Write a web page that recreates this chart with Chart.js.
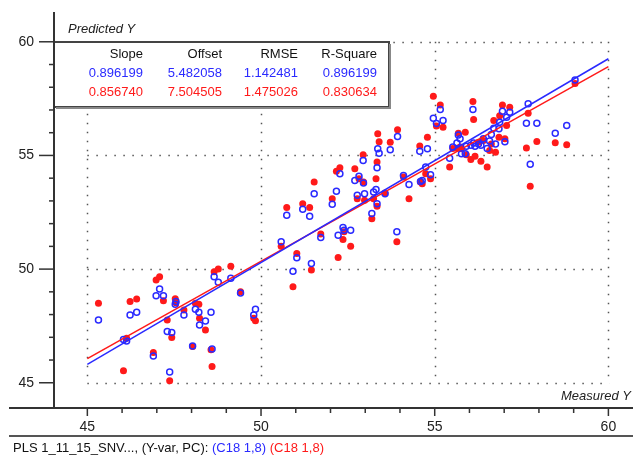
<!DOCTYPE html>
<html lang="en">
<head>
    <meta charset="UTF-8">
    <title>Predicted vs Measured Y</title>
    <script src="https://cdn.jsdelivr.net/npm/chart.js"></script>
    <style>
        body { margin: 0; background: #fff; }
        canvas { display: block; }
    </style>
</head>
<body>
    <canvas id="pls" width="633" height="455"></canvas>
    <script>
        // Measured Y per sample, and the predicted Y from the two models (blue, red)
        const measured = [
            45.32, 46.04, 46.13, 46.23, 46.42, 46.90, 46.98, 47.08, 47.19, 47.30,
            47.43, 47.37, 47.53, 47.55, 47.78, 48.03, 48.11, 48.21, 48.23, 48.40,
            48.56, 48.59, 48.65, 48.77, 49.13, 49.41, 49.79, 49.84, 50.58, 50.74,
            50.92, 51.03, 51.20, 51.40, 51.45, 51.53, 51.72, 52.05, 52.17, 52.27,
            52.22, 52.36, 52.39, 52.58, 52.70, 52.77, 52.82, 52.94, 52.95, 52.98,
            53.19, 53.24, 53.31, 53.34, 53.34, 53.36, 53.40, 53.57, 53.72, 53.91,
            53.93, 54.10, 54.26, 54.59, 54.57, 54.64, 54.74, 54.79, 54.88, 54.96,
            55.05, 55.16, 55.24, 55.43, 55.52, 55.64, 55.68, 55.73, 55.77, 55.88,
            55.91, 56.04, 56.10, 56.12, 56.16, 56.26, 56.33, 56.40, 56.51, 56.58,
            56.63, 56.70, 56.75, 56.85, 56.87, 56.95, 57.02, 57.07, 57.16, 57.64,
            57.69, 57.75, 57.94, 58.47, 58.80, 59.04
        ];
        const predBlue = [
            47.76, 46.90, 46.84, 47.98, 48.10, 46.18, 48.83, 49.12, 48.83, 47.25,
            47.21, 45.47, 48.45, 48.58, 47.98, 46.62, 48.23, 48.10, 47.54, 47.72,
            48.10, 46.48, 49.66, 49.42, 49.60, 48.95, 47.98, 48.23, 51.20, 52.37,
            49.91, 50.50, 52.63, 52.32, 50.25, 53.32, 51.39, 52.85, 53.43, 54.20,
            51.49, 51.83, 51.71, 51.71, 53.90, 53.25, 54.08, 54.78, 53.79, 53.32,
            52.45, 53.39, 53.50, 54.46, 52.88, 55.29, 55.10, 53.32, 55.25, 51.64,
            55.83, 54.12, 53.72, 53.85, 55.18, 53.90, 54.49, 55.29, 54.15, 56.64,
            56.40, 57.02, 56.54, 54.88, 55.37, 55.55, 55.90, 55.73, 55.07, 55.07,
            55.40, 55.45, 57.02, 55.55, 55.40, 55.50, 55.45, 55.73, 55.30, 55.63,
            55.92, 56.20, 55.50, 56.17, 56.46, 56.94, 55.60, 56.68, 56.90, 56.42,
            57.27, 54.61, 56.42, 55.98, 56.32, 58.32
        ];
        const predRed = [
            48.50, 45.53, 46.96, 48.57, 48.68, 46.33, 49.52, 49.66, 48.61, 47.76,
            46.99, 45.09, 48.70, 48.52, 48.20, 46.59, 48.50, 48.45, 47.84, 47.32,
            46.45, 45.72, 49.88, 50.00, 50.13, 49.00, 47.84, 47.73, 51.01, 52.71,
            49.22, 50.69, 52.88, 52.71, 49.96, 53.83, 51.54, 53.10, 54.31, 54.46,
            50.51, 51.30, 51.64, 51.01, 54.42, 53.10, 53.98, 55.03, 53.83, 53.03,
            52.22, 53.10, 53.98, 54.71, 52.76, 55.95, 55.60, 53.35, 55.58, 51.20,
            56.13, 54.05, 53.10, 53.83, 55.41, 53.76, 54.20, 55.80, 53.98, 57.60,
            56.29, 57.22, 56.24, 54.49, 55.30, 55.32, 55.98, 55.37, 55.29, 56.02,
            55.03, 54.82, 57.37, 56.58, 54.96, 55.58, 54.74, 55.66, 54.49, 55.22,
            55.50, 56.54, 55.14, 55.80, 56.75, 57.22, 55.73, 56.32, 57.12, 55.33,
            56.86, 53.65, 55.61, 55.56, 55.47, 58.17
        ];

        // Fit statistics shown in the table (blue row, red row)
        const statHeaders = ['Slope', 'Offset', 'RMSE', 'R-Square'];
        const statsBlue = ['0.896199', '5.482058', '1.142481', '0.896199'];
        const statsRed = ['0.856740', '7.504505', '1.475026', '0.830634'];
        const slopes = [0.896199, 0.856740];
        const offsets = [5.482058, 7.504505];
        const fitRange = [45, 60];

        const xTicks = [45, 50, 55, 60];
        const yTicks = [45, 50, 55, 60];

        const BLUE = '#2a2aff';
        const RED = '#ff1a1a';
        const FONT = '"Liberation Sans", Arial, sans-serif';

        function pts(ys) {
            return measured.map((x, i) => ({ x: x, y: ys[i] }));
        }
        function fitLine(k) {
            return fitRange.map(x => ({ x: x, y: slopes[k] * x + offsets[k] }));
        }

        const framePlugin = {
            id: 'frame',
            beforeDatasetsDraw(chart) {
                const ctx = chart.ctx;
                const xs = chart.scales.x, ys = chart.scales.y;
                const x0 = xs.getPixelForValue(45), x1 = xs.getPixelForValue(60);
                const y0 = ys.getPixelForValue(45), y1 = ys.getPixelForValue(60);
                ctx.save();
                // dotted grid
                ctx.strokeStyle = '#555';
                ctx.lineWidth = 1.5;
                ctx.setLineDash([1.5, 7.5]);
                yTicks.forEach(v => {
                    const y = Math.round(ys.getPixelForValue(v)) + 0.5;
                    ctx.beginPath(); ctx.moveTo(x0, y); ctx.lineTo(x1 + 1, y); ctx.stroke();
                });
                xTicks.forEach(v => {
                    const x = Math.round(xs.getPixelForValue(v)) + 0.5;
                    ctx.beginPath(); ctx.moveTo(x, y1); ctx.lineTo(x, y0 + 1); ctx.stroke();
                });
                ctx.setLineDash([]);

                // stats box
                const bx = 54, by = Math.round(y1), bw = 335, bh = 65;
                ctx.fillStyle = '#fff';
                ctx.fillRect(bx, by, bw, bh);
                ctx.strokeStyle = '#444';
                ctx.lineWidth = 2;
                ctx.strokeRect(bx, by, bw, bh);
                ctx.fillStyle = '#888';
                ctx.fillRect(bx + bw, by + 2, 2, bh);
                ctx.fillRect(bx + 2, by + bh, bw, 2);

                ctx.font = '13px ' + FONT;
                ctx.textAlign = 'right';
                ctx.textBaseline = 'alphabetic';
                const cols = [143, 222, 298, 377];
                statHeaders.forEach((t, i) => { ctx.fillStyle = '#111'; ctx.fillText(t, cols[i], by + 16); });
                statsBlue.forEach((t, i) => { ctx.fillStyle = BLUE; ctx.fillText(t, cols[i], by + 35); });
                statsRed.forEach((t, i) => { ctx.fillStyle = RED; ctx.fillText(t, cols[i], by + 54); });
                ctx.restore();
            },
            afterDraw(chart) {
                const ctx = chart.ctx;
                const xs = chart.scales.x, ys = chart.scales.y;
                const area = chart.chartArea;
                ctx.save();
                ctx.strokeStyle = '#333';
                ctx.fillStyle = '#222';
                ctx.lineWidth = 2;
                // y axis
                ctx.beginPath(); ctx.moveTo(area.left, area.top); ctx.lineTo(area.left, area.bottom); ctx.stroke();
                // x axis
                ctx.beginPath(); ctx.moveTo(9, area.bottom); ctx.lineTo(633, area.bottom); ctx.stroke();
                // bottom separator
                ctx.strokeStyle = '#555';
                ctx.beginPath(); ctx.moveTo(9, 436); ctx.lineTo(633, 436); ctx.stroke();

                ctx.strokeStyle = '#333';
                ctx.lineWidth = 1.5;
                for (let v = 45; v <= 60; v++) {
                    const major = v % 5 === 0;
                    const y = ys.getPixelForValue(v);
                    ctx.beginPath(); ctx.moveTo(area.left - (major ? 15 : 5), y); ctx.lineTo(area.left, y); ctx.stroke();
                    const x = xs.getPixelForValue(v);
                    ctx.beginPath(); ctx.moveTo(x, area.bottom); ctx.lineTo(x, area.bottom + (major ? 8 : 5)); ctx.stroke();
                }

                ctx.font = '14px ' + FONT;
                ctx.textBaseline = 'middle';
                ctx.textAlign = 'right';
                yTicks.forEach(v => ctx.fillText(String(v), 34, ys.getPixelForValue(v)));
                ctx.textAlign = 'center';
                xTicks.forEach(v => ctx.fillText(String(v), xs.getPixelForValue(v), 427));

                ctx.font = 'italic 13px ' + FONT;
                ctx.textBaseline = 'alphabetic';
                ctx.textAlign = 'left';
                ctx.fillText('Predicted Y', 68, 33);
                ctx.textAlign = 'right';
                ctx.fillText('Measured Y', 631, 400);

                // footer
                ctx.font = '13px ' + FONT;
                ctx.textAlign = 'left';
                let fx = 13;
                const parts = [['PLS 1_11_15_SNV..., (Y-var, PC): ', '#111'], ['(C18 1,8)', BLUE], [' (C18 1,8)', RED]];
                parts.forEach(p => {
                    ctx.fillStyle = p[1];
                    ctx.fillText(p[0], fx, 452);
                    fx += ctx.measureText(p[0]).width;
                });
                ctx.restore();
            }
        };

        new Chart(document.getElementById('pls').getContext('2d'), {
            type: 'scatter',
            data: {
                datasets: [
                    {
                        type: 'line', data: fitLine(0), borderColor: BLUE, borderWidth: 1.5,
                        pointRadius: 0, order: 1
                    },
                    {
                        type: 'line', data: fitLine(1), borderColor: RED, borderWidth: 1.5,
                        pointRadius: 0, order: 2
                    },
                    {
                        data: pts(predBlue), pointRadius: 3, borderWidth: 1.5,
                        borderColor: BLUE, backgroundColor: 'rgba(0,0,0,0)', order: 3
                    },
                    {
                        data: pts(predRed), pointRadius: 3.5, borderWidth: 0,
                        borderColor: RED, backgroundColor: RED, order: 4
                    }
                ]
            },
            options: {
                responsive: false,
                animation: false,
                layout: { padding: { left: 54, top: 12, right: 0, bottom: 47 } },
                scales: {
                    x: { type: 'linear', min: 44.04, max: 60.55, display: false },
                    y: { type: 'linear', min: 43.89, max: 61.31, display: false }
                },
                plugins: {
                    legend: { display: false },
                    tooltip: { enabled: false }
                }
            },
            plugins: [framePlugin]
        });
    </script>
</body>
</html>
